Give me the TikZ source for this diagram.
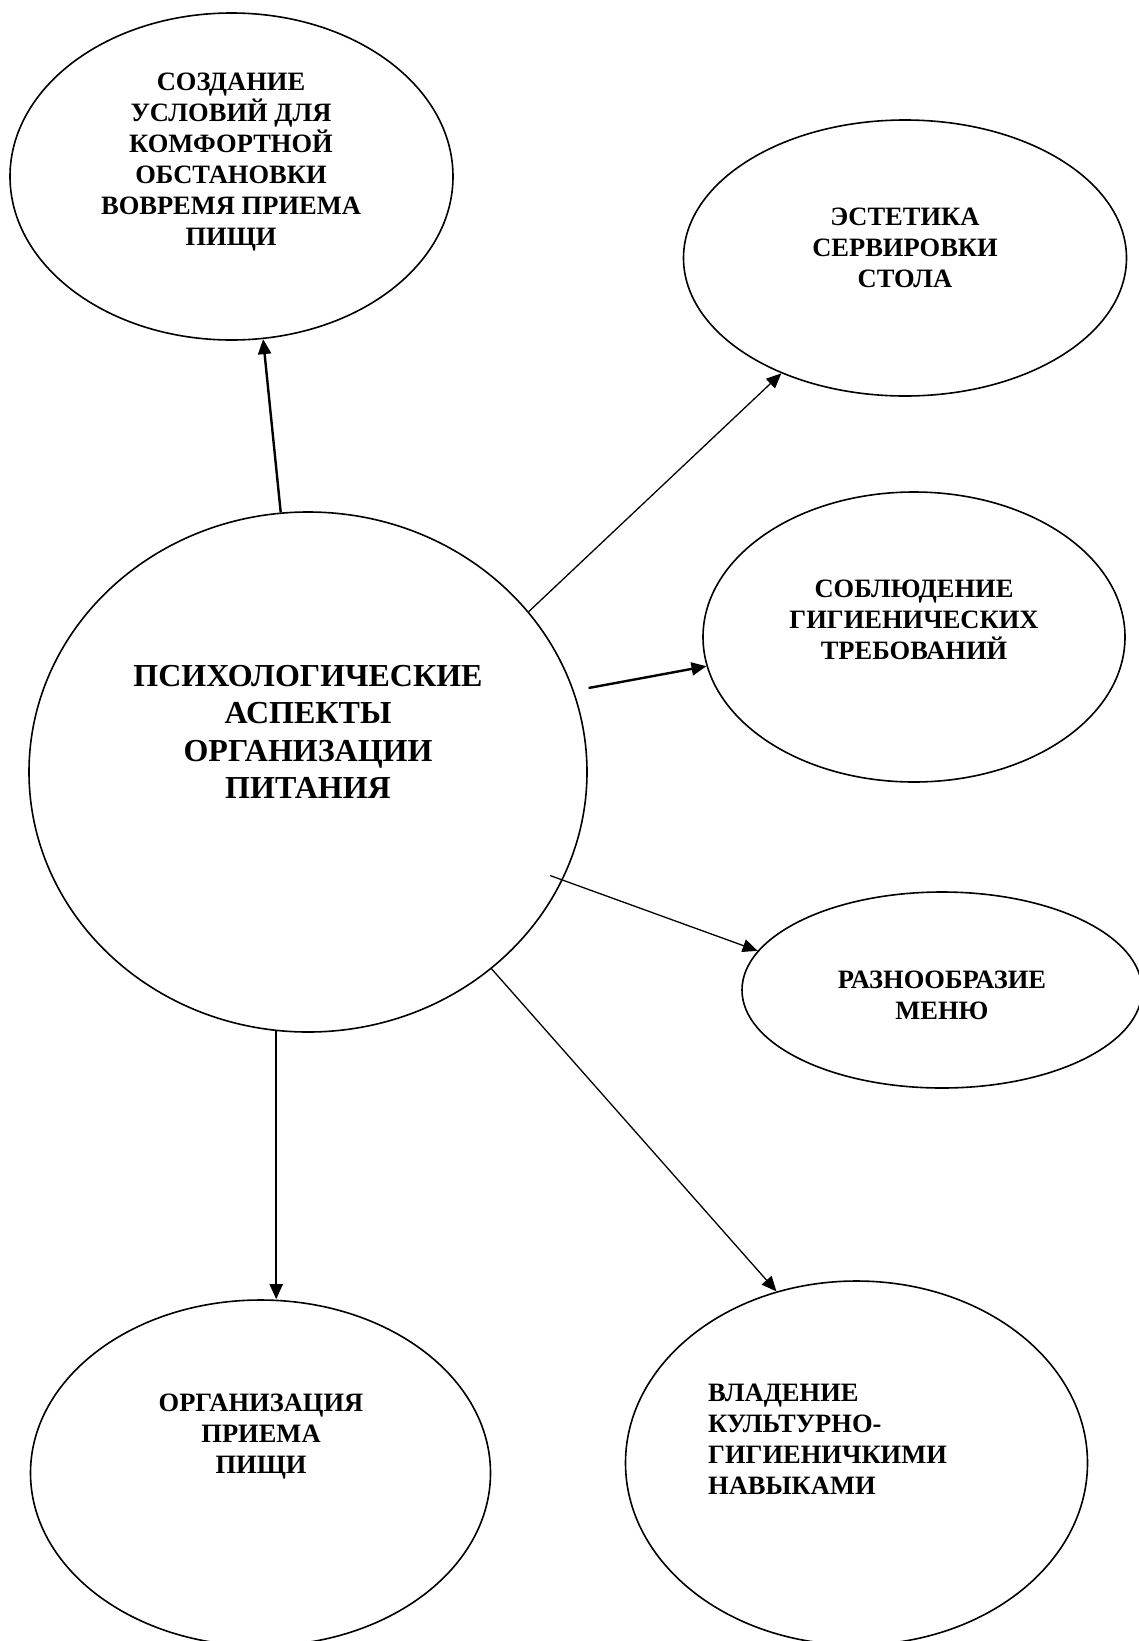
\documentclass[tikz,border=0pt]{standalone}
\usepackage{fontspec}
\setmainfont{Liberation Serif}
\usetikzlibrary{shapes.geometric,arrows.meta,calc}
\begin{document}
\begin{tikzpicture}[x=1pt,y=-1pt,
  ell/.style={draw, ellipse, line width=1.6pt, inner sep=0pt},
  lbl/.style={font=\fontsize{26.5}{31}\selectfont\bfseries, align=center, inner sep=0pt},
  mainlbl/.style={font=\fontsize{32}{37.5}\selectfont\bfseries, align=center, inner sep=0pt},
  conn/.style={line width=1.3pt, -{Triangle[length=15pt,width=13pt]}},
  connthick/.style={conn, line width=2.4pt}]
\fill[white] (0,0) rectangle (1138,1641);
\useasboundingbox (0,0) rectangle (1138,1641);

\node[ell, minimum width=443pt, minimum height=327pt] (soz) at (231.5,176.5) {};
\node[ell, minimum width=443pt, minimum height=276pt] (est) at (905,258) {};
\node[ell, minimum width=422pt, minimum height=290pt] (sob) at (914,637) {};
\node[ell, minimum width=400pt, minimum height=196pt] (raz) at (942,990) {};
\node[ell, minimum width=460pt, minimum height=346pt] (org) at (260.5,1473) {};
\node[ell, minimum width=462pt, minimum height=364pt] (vla) at (856.5,1463) {};
\node[ell, minimum width=558pt, minimum height=520pt] (main) at (308,772) {};

\node[lbl] (tsoz) at (231,162) {СОЗДАНИЕ\\УСЛОВИЙ ДЛЯ\\КОМФОРТНОЙ\\ОБСТАНОВКИ\\ВОВРЕМЯ ПРИЕМА\\ПИЩИ};
\node[lbl] (test) at (905,248) {ЭСТЕТИКА\\СЕРВИРОВКИ\\СТОЛА};
\node[lbl] (tsob) at (914,620) {СОБЛЮДЕНИЕ\\ГИГИЕНИЧЕСКИХ\\ТРЕБОВАНИЙ};
\node[lbl] (traz) at (942,995) {РАЗНООБРАЗИЕ\\МЕНЮ};
\node[lbl] (torg) at (261,1437) {ОРГАНИЗАЦИЯ\\ПРИЕМА\\ПИЩИ};
\node[lbl, align=left, anchor=west] (tvla) at (708,1439) {ВЛАДЕНИЕ\\КУЛЬТУРНО-\\ГИГИЕНИЧКИМИ\\НАВЫКАМИ};
\node[mainlbl] (tmain) at (308,732) {ПСИХОЛОГИЧЕСКИЕ\\АСПЕКТЫ\\ОРГАНИЗАЦИИ\\ПИТАНИЯ};

\draw[connthick] (main.96.2) -- (soz.-79.2);
\draw[conn] (main.36.6) -- (est.223.6);
\draw[connthick, shorten <=15pt] (main.17.55) -- (sob.188);
\draw[conn, shorten <=-13.5pt] (main.-23.4) -- (raz.168.6);
\draw[conn, line width=2pt] (main.263.6) -- (main.263.6 |- org.north);
\draw[conn] (main.-47.7) -- (vla.115.6);
\end{tikzpicture}
\end{document}
